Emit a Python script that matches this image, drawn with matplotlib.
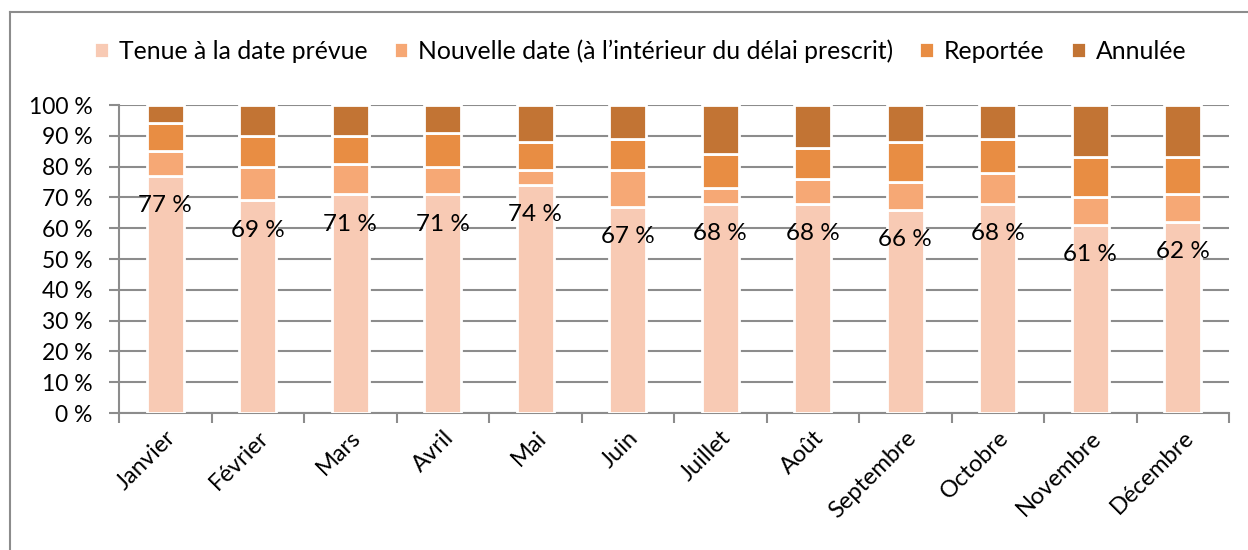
import matplotlib
matplotlib.use('Agg')
import matplotlib.pyplot as plt
import numpy as np

plt.rcParams['font.family'] = ['Lato', 'DejaVu Sans']

mois = ['Janvier', 'Février', 'Mars', 'Avril', 'Mai', 'Juin', 'Juillet',
        'Août', 'Septembre', 'Octobre', 'Novembre', 'Décembre']
tenue = [77, 69, 71, 71, 74, 67, 68, 68, 66, 68, 61, 62]
nouvelle = [8, 11, 10, 9, 5, 12, 5, 8, 9, 10, 9, 9]
reportee = [9, 10, 9, 11, 9, 10, 11, 10, 13, 11, 13, 12]
annulee = [6, 10, 10, 9, 12, 11, 16, 14, 12, 11, 17, 17]

series = ['Tenue à la date prévue',
          'Nouvelle date (à l’intérieur du délai prescrit)',
          'Reportée', 'Annulée']
couleurs = ['#F8CAB4', '#F6A875', '#E88D43', '#C27434']
grid_c = '#8C8C8C'

fig = plt.figure(figsize=(12.48, 5.5), dpi=100)
ax = fig.add_axes([119 / 1248, 1 - 413 / 550, 1110 / 1248, 308 / 550])

x = np.arange(len(mois))
bottom = np.zeros(len(mois))
for vals, nom, c in zip([tenue, nouvelle, reportee, annulee], series, couleurs):
    ax.bar(x, vals, 0.4, bottom=bottom, color=c, edgecolor='white',
           linewidth=2, label=nom, zorder=3)
    bottom += np.array(vals)

for i, v in enumerate(tenue):
    ax.text(i, v - 9.7, f'{v} %', ha='center', va='center', fontsize=17.5, zorder=4)

ax.set_xlim(-0.5, len(mois) - 0.5)
ax.set_ylim(0, 100)
ax.set_yticks(np.arange(0, 101, 10))
ax.set_yticklabels([f'{v} %' for v in range(0, 101, 10)], fontsize=16.5)
ax.yaxis.grid(True, color=grid_c, linewidth=1.5, zorder=0)
ax.set_axisbelow(True)

ax.set_xticks(np.append(x - 0.5, len(mois) - 0.5))
ax.set_xticklabels([])
ax.set_xticks(x, minor=True)
ax.set_xticklabels(mois, minor=True, rotation=45, ha='right',
                   rotation_mode='anchor', fontsize=17)
ax.tick_params(axis='x', which='minor', length=0, pad=10)
ax.tick_params(axis='x', which='major', length=7, width=1.5, color=grid_c)
ax.tick_params(axis='y', length=7, width=1.5, color=grid_c, pad=12)

for s in ['top', 'right']:
    ax.spines[s].set_visible(False)
for s in ['left', 'bottom']:
    ax.spines[s].set_color(grid_c)
    ax.spines[s].set_linewidth(1.5)

fig.legend(loc='center', bbox_to_anchor=(0.513, 1 - 51 / 550), ncol=4,
           frameon=False, fontsize=17.8, handlelength=0.6, handleheight=0.6,
           handletextpad=0.4, columnspacing=1.05)

# cadre du graphique
fig.add_artist(plt.Line2D([10 / 1248, 1], [1 - 12 / 550] * 2,
                          color=grid_c, linewidth=1.5, transform=fig.transFigure))
fig.add_artist(plt.Line2D([10 / 1248] * 2, [0, 1 - 12 / 550],
                          color=grid_c, linewidth=1.5, transform=fig.transFigure))

plt.savefig('out.png', dpi=100)
plt.close()
